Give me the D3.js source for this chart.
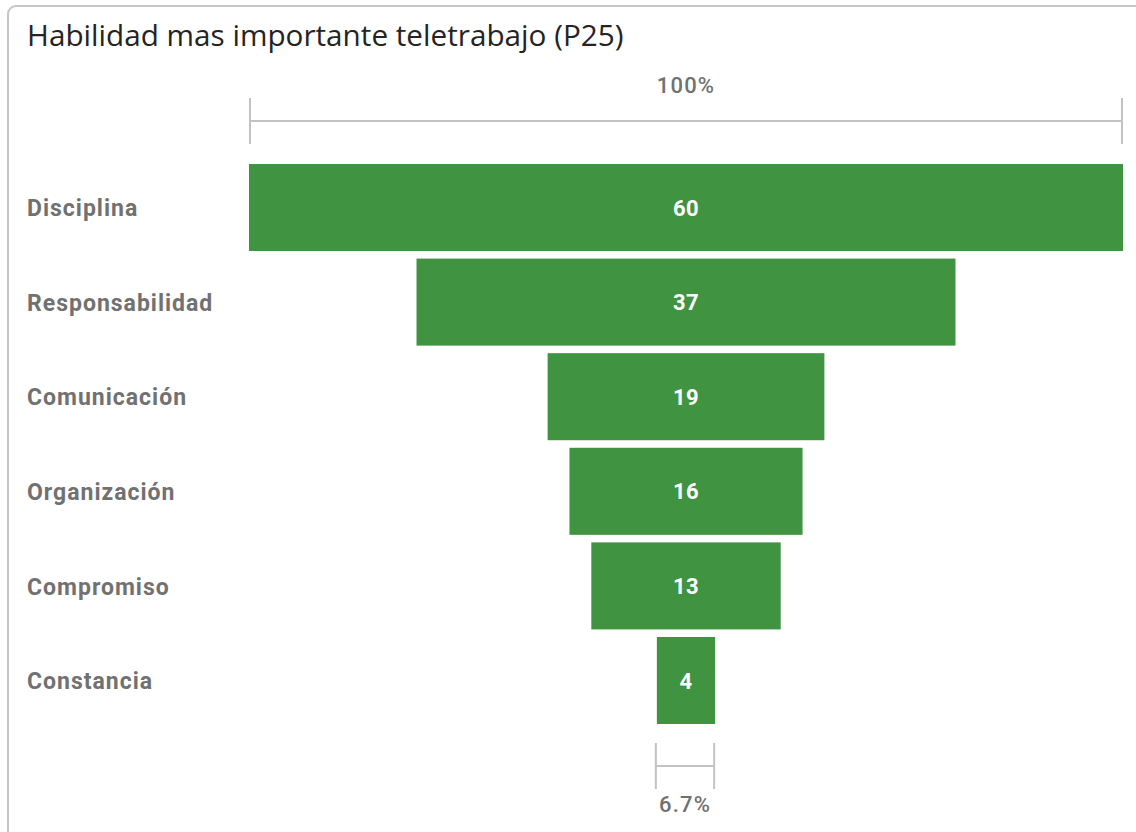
<!DOCTYPE html>
<html>
<head>
<meta charset="utf-8">
<script src="https://cdn.jsdelivr.net/npm/d3@7"></script>
<style>
  html, body { margin: 0; padding: 0; background: #ffffff; }
  svg { display: block; }
</style>
</head>
<body>
<svg id="chart" width="1136" height="832"></svg>
<script>
// Funnel data: skills ranked by number of mentions
const categories = ["Disciplina", "Responsabilidad", "Comunicación", "Organización", "Compromiso", "Constancia"];
const values = [60, 37, 19, 16, 13, 4];
const topLabel = "100%";
const bottomLabel = "6.7%";
const title = "Habilidad mas importante teletrabajo (P25)";

const svg = d3.select("#chart");
const W = 1136, H = 832;

// Card frame
svg.append("rect")
  .attr("x", 8).attr("y", 6)
  .attr("width", W + 20).attr("height", H + 20)
  .attr("rx", 8).attr("ry", 8)
  .attr("fill", "#ffffff")
  .attr("stroke", "#c6c6c6")
  .attr("stroke-width", 2);

svg.append("text")
  .attr("x", 27).attr("y", 46)
  .attr("font-family", "'Open Sans', 'Noto Sans', sans-serif")
  .attr("font-size", 29.7)
  .attr("fill", "#252423")
  .text(title);

const left = 249, right = 1123;
const cx = (left + right) / 2;
const maxV = d3.max(values);

// Width scale: bar width proportional to value, widest bar spans the plot
const w = d3.scaleLinear().domain([0, maxV]).range([0, right - left]);
const y = d3.scaleBand().domain(categories).range([160.2, 727.8]).paddingInner(0.08).paddingOuter(0.04);

const labelFont = "Roboto, 'DejaVu Sans', sans-serif";

// Bars
svg.append("g").selectAll("rect")
  .data(values)
  .join("rect")
  .attr("x", (d) => cx - w(d) / 2)
  .attr("y", (d, i) => y(categories[i]))
  .attr("width", (d) => w(d))
  .attr("height", y.bandwidth())
  .attr("fill", "#3f9341");

// Value labels
svg.append("g").selectAll("text")
  .data(values)
  .join("text")
  .attr("x", cx)
  .attr("y", (d, i) => y(categories[i]) + y.bandwidth() / 2)
  .attr("dy", "0.37em")
  .attr("text-anchor", "middle")
  .attr("font-family", labelFont)
  .attr("font-weight", "bold")
  .attr("font-size", 22)
  .attr("letter-spacing", 0.5)
  .attr("fill", "#ffffff")
  .text((d) => d);

// Category labels
svg.append("g").selectAll("text")
  .data(categories)
  .join("text")
  .attr("x", 27)
  .attr("y", (d) => y(d) + y.bandwidth() / 2)
  .attr("dy", "0.38em")
  .attr("font-family", labelFont)
  .attr("font-weight", "bold")
  .attr("font-size", 23)
  .attr("letter-spacing", 1)
  .attr("fill", "#717171")
  .text((d) => d);

// Conversion brackets: first bar (top) and last bar (bottom)
function bracket(x0, x1, yMid, half, label, labelY) {
  const g = svg.append("g").attr("stroke", "#c3c3c3").attr("stroke-width", 2).attr("fill", "none");
  g.append("line").attr("x1", x0).attr("x2", x0).attr("y1", yMid - half).attr("y2", yMid + half);
  g.append("line").attr("x1", x1).attr("x2", x1).attr("y1", yMid - half).attr("y2", yMid + half);
  g.append("line").attr("x1", x0).attr("x2", x1).attr("y1", yMid).attr("y2", yMid);
  svg.append("text")
    .attr("x", (x0 + x1) / 2).attr("y", labelY)
    .attr("text-anchor", "middle")
    .attr("font-family", labelFont)
    .attr("font-weight", 500)
    .attr("font-size", 22)
    .attr("letter-spacing", 1.2)
    .attr("fill", "#717171")
    .text(label);
}
const firstW = w(values[0]);
const lastW = w(values[values.length - 1]);
bracket(cx - firstW / 2 + 1, cx + firstW / 2 - 1, 121, 23, topLabel, 93);
bracket(cx - lastW / 2 - 1, cx + lastW / 2 - 1, 766, 23, bottomLabel, 812);
</script>
</body>
</html>
